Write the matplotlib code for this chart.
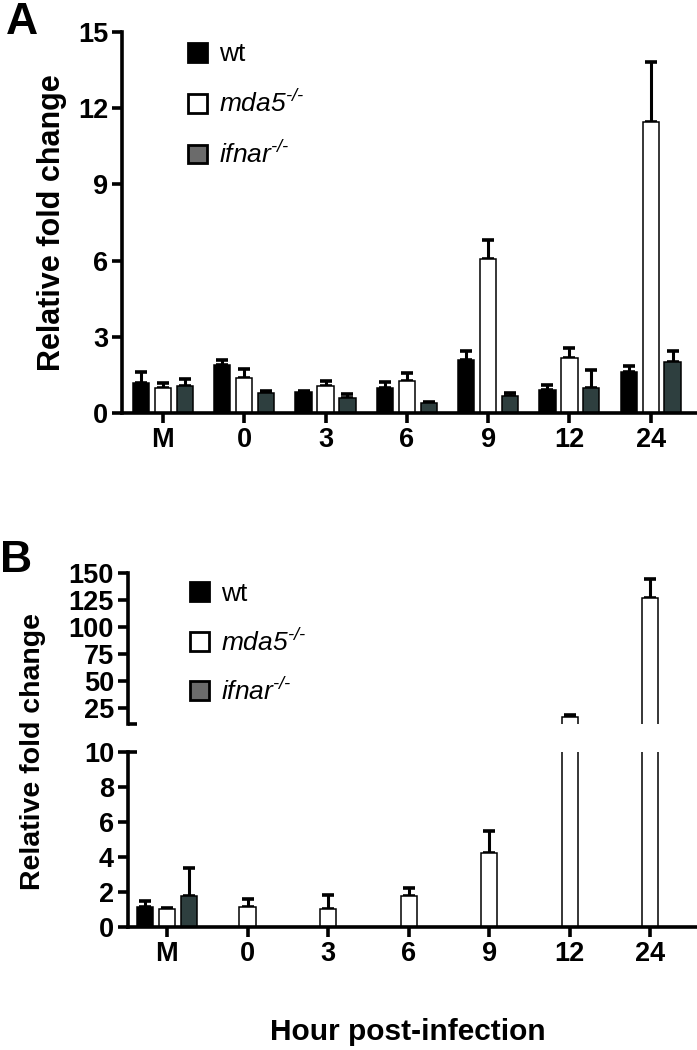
# 相対発現量 (A: 0-15, B: broken axis)
import numpy as np
from matplotlib import pyplot as plt
from matplotlib.patches import Patch

plt.rcParams['font.family'] = ['Liberation Sans', 'DejaVu Sans']
plt.rcParams['mathtext.fontset'] = 'custom'
plt.rcParams['mathtext.rm'] = 'Liberation Sans:italic'
plt.rcParams['mathtext.it'] = 'Liberation Sans:italic'
plt.rcParams['mathtext.bf'] = 'Liberation Sans:bold'

hours = ['M', '0', '3', '6', '9', '12', '24']
groups = ['wt', 'mda5', 'ifnar']
labels = ['wt', r'mda5$^{\text{-/-}}$', r'ifnar$^{\text{-/-}}$']

# パネルA
a_wt = [1.18, 1.89, 0.82, 1.00, 2.09, 0.90, 1.60]
a_wt_err = [0.42, 0.19, 0.04, 0.20, 0.33, 0.20, 0.26]
a_mda5 = [0.98, 1.38, 1.07, 1.27, 6.06, 2.18, 11.45]
a_mda5_err = [0.20, 0.35, 0.19, 0.30, 0.74, 0.39, 2.35]
a_ifnar = [1.07, 0.79, 0.60, 0.40, 0.67, 1.00, 2.00]
a_ifnar_err = [0.27, 0.07, 0.14, 0.05, 0.13, 0.70, 0.44]

# パネルB (wt, ifnar は M のみ)
b_wt = [1.14, np.nan, np.nan, np.nan, np.nan, np.nan, np.nan]
b_wt_err = [0.33, 0, 0, 0, 0, 0, 0]
b_mda5 = [1.03, 1.14, 1.03, 1.77, 4.23, 16.8, 127.2]
b_mda5_err = [0.05, 0.46, 0.80, 0.46, 1.26, 1.8, 17.3]
b_ifnar = [1.77, np.nan, np.nan, np.nan, np.nan, np.nan, np.nan]
b_ifnar_err = [1.60, 0, 0, 0, 0, 0, 0]

colors = ['black', 'white', '#2e3f3f']
legend_colors = ['black', 'white', '#6b6b6b']
w = 0.2
off = 0.27
x = np.arange(len(hours))

fig = plt.figure(figsize=(6.97, 10.5), dpi=100)


def style(ax, bottom=True):
    for s in ['top', 'right']:
        ax.spines[s].set_visible(False)
    ax.spines['left'].set_linewidth(2.6)
    ax.spines['bottom'].set_linewidth(2.6)
    ax.tick_params(axis='both', width=2.6, length=7, labelsize=19.5, pad=3)
    for t in ax.get_yticklabels() + ax.get_xticklabels():
        t.set_fontweight('bold')
    if not bottom:
        ax.spines['bottom'].set_visible(False)
        ax.tick_params(axis='x', bottom=False, labelbottom=False)


def bars(ax, vals, errs):
    for k in range(3):
        ax.bar(x + (k - 1) * off, vals[k], w, color=colors[k], edgecolor='black',
               linewidth=1.1, zorder=2)
        ax.errorbar(x + (k - 1) * off, vals[k], yerr=[np.zeros(len(x)), errs[k]],
                    fmt='none', ecolor='black', elinewidth=2.2, capsize=4.5,
                    capthick=2.6, zorder=1)


def legend(ax, anchor, spacing):
    handles = [Patch(facecolor=legend_colors[k], edgecolor='black', linewidth=2.0)
               for k in range(3)]
    leg = ax.legend(handles, labels, loc='upper left', bbox_to_anchor=anchor,
                    frameon=False, fontsize=19, handlelength=0.72, handleheight=0.72,
                    handletextpad=0.45, labelspacing=spacing, borderaxespad=0)
    for t in leg.get_texts()[1:]:
        t.set_style('italic')


# A
axA = fig.add_axes([0.175, 0.6067, 0.825, 0.3629])
bars(axA, [a_wt, a_mda5, a_ifnar], [a_wt_err, a_mda5_err, a_ifnar_err])
axA.set_xlim(-0.504, 6.57)
axA.set_ylim(0, 15)
axA.set_yticks([0, 3, 6, 9, 12, 15])
axA.set_xticks(x)
axA.set_xticklabels(hours)
style(axA)
axA.set_ylabel('Relative fold change', fontsize=22, fontweight='bold', labelpad=8)
legend(axA, (0.096, 1.0), 0.9)
fig.text(0.008, 0.998, 'A', fontsize=32, fontweight='bold', va='top', ha='left')

# B (下段 0-10, 上段 10-150)
axB = fig.add_axes([0.1836, 0.1171, 0.8164, 0.1667])
axB2 = fig.add_axes([0.1836, 0.3105, 0.8164, 0.1438])
for ax in [axB, axB2]:
    bars(ax, [b_wt, b_mda5, b_ifnar], [b_wt_err, b_mda5_err, b_ifnar_err])
    ax.set_xlim(-0.484, 6.58)
    ax.set_xticks(x)
axB.set_ylim(0, 10)
axB.set_yticks([0, 2, 4, 6, 8, 10])
axB.set_xticklabels(hours)
axB2.set_ylim(10, 150)
axB2.set_yticks([25, 50, 75, 100, 125, 150])
style(axB)
style(axB2, bottom=False)
# 軸の切れ目
axB.plot([0, 0.016], [1, 1], transform=axB.transAxes, color='black', lw=2.6,
         clip_on=False, solid_capstyle='butt')
axB2.plot([0, 0.016], [0, 0], transform=axB2.transAxes, color='black', lw=2.6,
          clip_on=False, solid_capstyle='butt')
legend(axB2, (0.091, 1.01), 0.85)
fig.text(33 / 697, 1 - 751 / 1050, 'Relative fold change', rotation=90, fontsize=20.5,
         fontweight='bold', ha='center', va='center')
fig.text(408 / 697, 1 - 1032 / 1050, 'Hour post-infection', fontsize=21.5,
         fontweight='bold', ha='center', va='center')
fig.text(0.0, 1 - 540 / 1050, 'B', fontsize=32, fontweight='bold', va='top', ha='left')

plt.savefig('out.png', dpi=100)
